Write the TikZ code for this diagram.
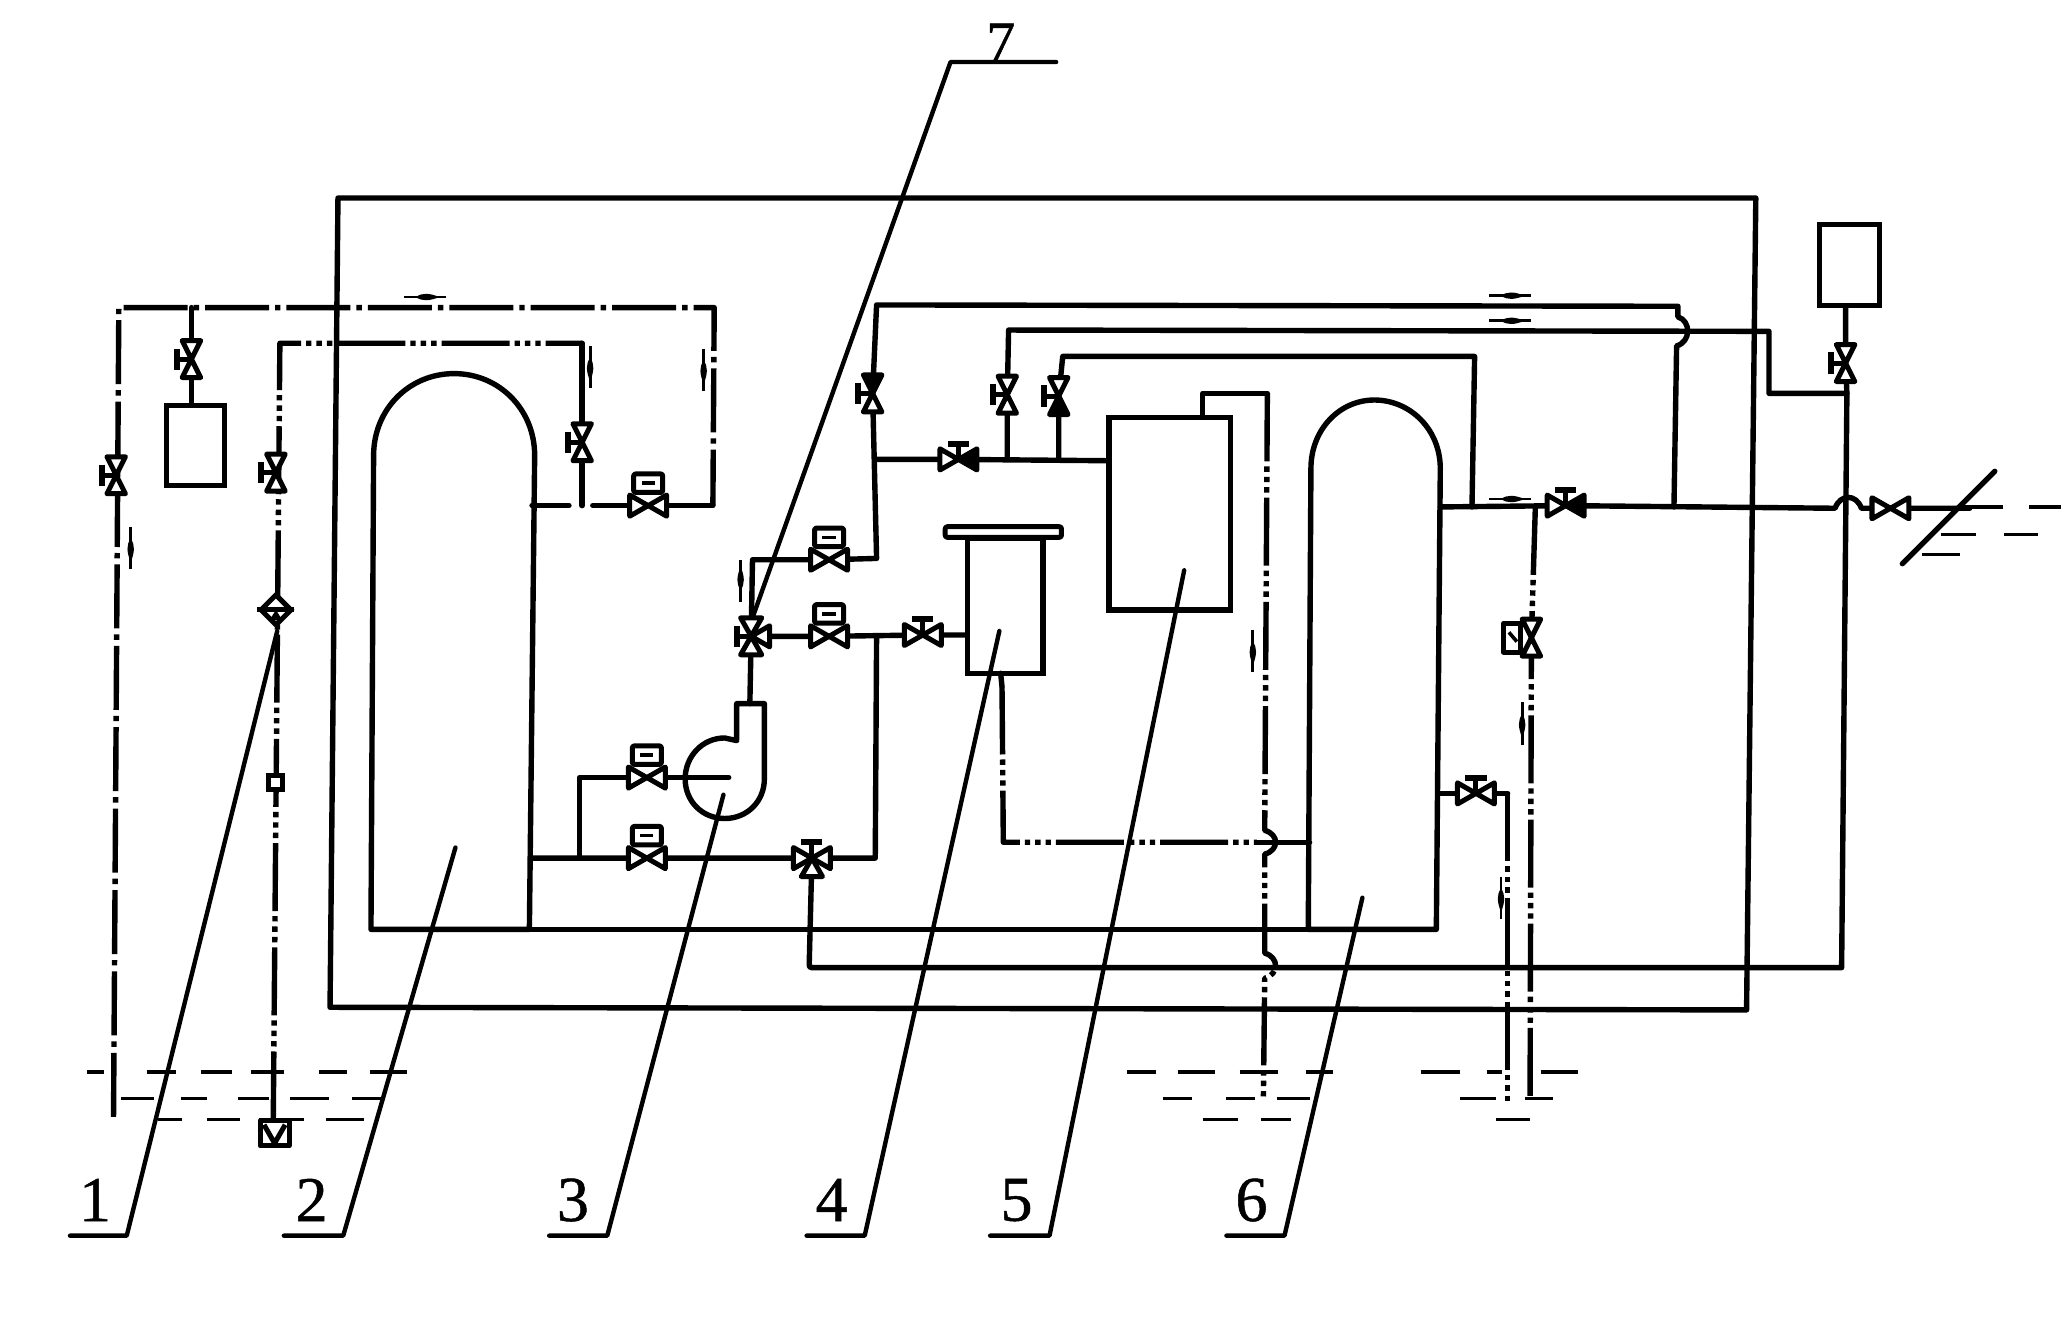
\documentclass[tikz,border=0pt]{standalone}
\usepackage{fontspec}
\usetikzlibrary{shapes.geometric}
\setmainfont{Liberation Serif}
\newfontfamily\digitfont[FakeBold=0.8]{Liberation Serif}
\tikzset{
  x=0.66pt,y=-0.66pt,
  pipe/.style={line width=2.7pt,line cap=round,line join=round},
  ddot/.style={pipe,line cap=butt,dash pattern=on 32pt off 3pt on 2.7pt off 3pt},
  dddot/.style={pipe,line cap=butt,dash pattern=on 34pt off 2.5pt on 2.7pt off 2.5pt on 2.7pt off 2.5pt on 2.7pt off 2.5pt},
  leader/.style={line width=2.2pt,line cap=round,line join=round},
  vlv/.style={line width=2.5pt,line join=round},
  water/.style={line width=1.6pt},
  num/.style={font=\fontsize{32}{32}\digitfont,inner sep=0pt},
  bowv/.pic={\draw[vlv,fill=white] (-7,-14)--(7,-14)--(-7,14)--(7,14)--cycle;},
  bowh/.pic={\draw[vlv,fill=white] (-14,-8)--(-14,8)--(14,-8)--(14,8)--cycle;},
  handL/.pic={\draw[vlv] (0,0)--(-11,0);\draw[line width=3pt] (-11,-8)--(-11,8);},
  handT/.pic={\draw[vlv] (0,0)--(0,-11);\draw[line width=3pt] (-8,-12)--(8,-12);},
  boxT/.pic={\draw[vlv,rounded corners=1pt,fill=white] (-11,-24)rectangle(11,-10);\draw[line width=1.8pt](-5,-17)--(5,-17);},
  fillS/.pic={\fill (-7,14)--(7,14)--(0,0)--cycle;},
  fillN/.pic={\fill (-7,-14)--(7,-14)--(0,0)--cycle;},
  fillE/.pic={\fill (14,-8)--(14,8)--(0,0)--cycle;},
  triE/.pic={\draw[vlv,fill=white] (0,0)--(14,-8)--(14,8)--cycle;},
  triW/.pic={\draw[vlv,fill=white] (0,0)--(-14,-8)--(-14,8)--cycle;},
  triN/.pic={\draw[vlv,fill=white] (0,0)--(-8,-14)--(8,-14)--cycle;},
  triS/.pic={\draw[vlv,fill=white] (0,0)--(-8,14)--(8,14)--cycle;},
  flow/.pic={\draw[line width=1.4pt] (-16,0)--(16,0);\fill (-7,0) .. controls (-2,-3.5) and (3,-3) .. (11,0) .. controls (3,3) and (-2,3.5) .. (-7,0)--cycle;},
}
\newcommand\VV[1]{\pic at (#1) {bowv};\pic at (#1) {handL};}
\newcommand\HT[1]{\pic at (#1) {bowh};\pic at (#1) {handT};}
\newcommand\HB[1]{\pic at (#1) {bowh};\pic at (#1) {boxT};}
\begin{document}
\begin{tikzpicture}
\useasboundingbox (0,0) rectangle (1568,998);
% ---------- named points
\coordinate (vA) at (145,272);
\coordinate (vB) at (88,360);
\coordinate (vC) at (209,358);
\coordinate (vD) at (441,335);
\coordinate (vE) at (491,383);
\coordinate (vF) at (661,298);
\coordinate (vG) at (763,299);
\coordinate (vH) at (802,300);
\coordinate (vI) at (726,348);
\coordinate (vJ) at (628,424);
\coordinate (vK) at (628,482);
\coordinate (vL) at (699,481);
\coordinate (vM) at (569,482);
\coordinate (vN) at (490,589);
\coordinate (vO) at (490,650);
\coordinate (vP) at (615,650);
\coordinate (vQ) at (1186,383);
\coordinate (vR) at (1160,483);
\coordinate (vS) at (1118,601);
\coordinate (vT) at (1398,275);
\coordinate (vU) at (1432,385);
% ---------- outer loop
\draw[pipe] (256,150)--(1330,150)--(1323,765)--(250,763)--cycle;
% ---------- vessels
\draw[pipe] (281,704)--(283,345) .. controls (283,310) and (310,283) .. (344,283)
  .. controls (378,283) and (405,310) .. (405,345)--(401,704)--cycle;
\draw[pipe] (401,704)--(991,704);
\draw[pipe] (991,704)--(993,355) .. controls (993,325) and (1015,303) .. (1041,303)
  .. controls (1068,303) and (1091,325) .. (1091,355)--(1088,704)--(991,704);
\node[draw,line width=2.7pt,minimum width=60.7pt,minimum height=96.4pt,inner sep=0pt,anchor=north west] (v5) at (838,314) {};
\node[draw,line width=2.7pt,minimum width=37.6pt,minimum height=67.3pt,inner sep=0pt,anchor=north west] (v4) at (731,406) {};
\draw[vlv,rounded corners=1pt] (716,399) rectangle (804,407);
% ---------- tanks
\node[draw,line width=2.7pt,minimum width=29pt,minimum height=40pt,inner sep=0pt,anchor=north west] (tkL) at (124,305) {};
\node[draw,line width=2.7pt,minimum width=30pt,minimum height=40.5pt,inner sep=0pt,anchor=north west] (tkR) at (1376,168) {};
% ---------- dash-dot line 1
\draw[ddot] (86,846)--(90,233)--(541,233)--(540,383);
\draw[pipe] (540,383)--(vE);
\draw[pipe] (vE)--(449,383);
\draw[pipe] (431,383)--(403,383);
\draw[pipe] (vA|-0,233)--(vA)--(tkL.north-|vA);
% ---------- line 2
\draw[dddot] (207,848)--(212,260)--(441,260);
\draw[pipe] (441,260)--(vD)--(441,383);
% ---------- water
\foreach \a/\b in {66/79,111/133,152/176,190/215,242/263,280/308,854/876,892/920,939/968,989/1010,1076/1106,1126/1138,1167/1195}
  \draw[water] (\a,812)--(\b,812);
\foreach \a/\b in {92/117,137/157,180/204,220/249,267/289,881/903,929/951,967/992,1106/1133,1155/1176}
  \draw[water] (\a,832)--(\b,832);
\foreach \a/\b in {120/138,157/182,196/230,247/276,911/938,955/978,1133/1159}
  \draw[water] (\a,848)--(\b,848);
\foreach \a/\b/\y in {1486/1517/384,1537/1561/384,1470/1497/405,1518/1544/405,1456/1485/420}
  \draw[water] (\a,\y)--(\b,\y);
% ---------- pump
\draw[pipe] (558,560)--(558,533)--(579,533)--(579,590)
  .. controls (579,607) and (566,620) .. (549,620)
  .. controls (532,620) and (519,607) .. (519,590)
  .. controls (519,573) and (532,559) .. (549,559)--(558,561);
\draw[pipe] (439,650)--(439,589)--(vN)--(552,589);
% ---------- main pipe runs
\draw[pipe] (403,650)--(vO)--(vP)--(663,650)--(664,482);
\draw[pipe] (vM)--(vK)--(vL)--(732,481);
\draw[pipe] (vM)--(568,533);
\draw[pipe] (vM)--(570,424)--(vJ)--(664,423)--(vF)--(664,231)--(1271,232)--(1271,240)
  .. controls (1281,243) and (1281,259) .. (1270,262)--(1268,384);
\draw[pipe] (664,348)--(vI)--(840,349);
\draw[pipe] (763,348)--(vG)--(764,250)--(1340,251)--(1340,298)--(1399,298);
\draw[pipe] (802,348)--(vH)--(805,270)--(1117,270)--(1115,384);
\draw[pipe] (1091,384)--(vQ)--(1390,385) .. controls (1394,374) and (1406,374) .. (1410,385)--(vU)--(1492,385);
\draw[pipe] (vP)--(613,729) .. controls (613,733) .. (617,733)--(1395,733)--(1399,298)--(vT)--(tkR.south-|vT);
\draw[dddot] (1163,384)--(vR)--(1159,832);
\draw[pipe] (1089,601)--(vS)--(1142,601);
\draw[dddot] (1142,601)--(1142,836);
\draw[pipe] (911,316)--(911,298)--(960,298);
\draw[dddot] (960,298)--(958,629) .. controls (969,632) and (969,644) .. (958,647)--(958,722)
  .. controls (969,725) and (969,738) .. (958,741)--(957,832);
\draw[pipe] (758,510)--(759,520);
\draw[dddot] (759,520)--(760,638)--(952,638);
\draw[pipe] (952,638)--(992,638);
% ---------- outlet
\draw[pipe] (1511,357)--(1441,427);
% ---------- filter, strainer, foot valve
\node[diamond,draw,line width=2.5pt,fill=white,minimum width=16pt,minimum height=16pt,inner sep=0pt] (fil) at (209,462) {};
\draw[vlv] (fil.west)--(fil.east);
\fill (fil.center)--(204,470)--(214,470)--cycle;
\node[draw,line width=2.5pt,fill=white,minimum width=7pt,minimum height=7pt,inner sep=0pt] (sq) at (209,593) {};
\draw[vlv,fill=white] (197,849) rectangle (219,868);
\draw[vlv] (200,852)--(208,866)--(216,852);
% ---------- valves
\VV{vA}\VV{vB}\VV{vC}\VV{vD}\VV{vF}\VV{vG}\VV{vH}\VV{vT}
\pic at (vF) {fillN};\pic at (vH) {fillS};
\HT{vI}\HT{vL}\HT{vQ}\HT{vS}
\pic at (vI) {fillE};\pic at (vQ) {fillE};
\HB{vE}\HB{vJ}\HB{vK}\HB{vN}\HB{vO}
\pic at (vU) {bowh};
% three-way
\pic at (vM) {triN};\pic at (vM) {triS};\pic at (vM) {triE};\pic at (vM) {handL};
\pic at (vP) {triE};\pic at (vP) {triW};\pic at (vP) {triS};\pic at (vP) {handT};
% valve with side box
\pic at (vR) {bowv};
\draw[vlv,fill=white] (1139,472) rectangle (1152,494);
\draw[line width=1.8pt] (1143,479)--(1149,486);
% ---------- flow marks
\pic at (322,225) {flow};
\pic at (1144,224) {flow};
\pic at (1144,243) {flow};
\pic at (1144,378) {flow};
\foreach \p in {(99,415),(949,493),(1137,680),(1153,548),(447,278),(533,280)} \pic[rotate=-90] at \p {flow};
\pic[rotate=90] at (561,440) {flow};
% ---------- leaders
\draw[leader] (53,936)--(96,936)--(210,478);
\draw[leader] (215,936)--(260,936)--(345,642);
\draw[leader] (416,936)--(460,936)--(548,602);
\draw[leader] (611,936)--(655,936)--(757,478);
\draw[leader] (750,936)--(795,936)--(897,432);
\draw[leader] (929,936)--(973,936)--(1032,680);
\draw[leader] (570,468)--(720,47)--(800,47);
% ---------- labels
\node[num] (n1) at (72,909) {1};
\node[num] (n2) at (236,909) {2};
\node[num] (n3) at (434,909) {3};
\node[num] (n4) at (630,909) {4};
\node[num] (n5) at (770,909) {5};
\node[num] (n6) at (948,909) {6};
\node[num,font=\fontsize{29}{29}\digitfont,anchor=south] (n7) at (758,47) {7};
\end{tikzpicture}
\end{document}
